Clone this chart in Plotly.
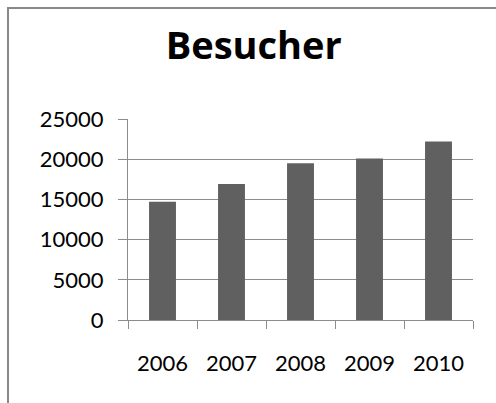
import plotly.graph_objects as go

years = ["2006", "2007", "2008", "2009", "2010"]
besucher = [14700, 16900, 19500, 20100, 22200]
y_ticks = [0, 5000, 10000, 15000, 20000, 25000]

W, H = 496, 403
L, R, T, B = 128, 23, 119, 83
pw, ph = W - L - R, H - T - B

fig = go.Figure(go.Bar(x=years, y=besucher, marker=dict(color="#606060", line=dict(width=0)),
                       hoverinfo="skip"))

font = "Lato, 'Open Sans', sans-serif"
grid = "#8c8c8c"
fig.update_layout(
    width=W, height=H,
    margin=dict(l=L, r=R, t=T, b=B, pad=0),
    paper_bgcolor="white", plot_bgcolor="white",
    bargap=0.61,
    showlegend=False,
    font=dict(family=font, color="black", size=22),
    title=dict(text="<b>Besucher</b>", x=253.7 / W, xanchor="center", xref="container",
               y=1 - 46 / H, yanchor="middle", yref="container",
               font=dict(family="'Open Sans', sans-serif", size=38, color="black")),
    xaxis=dict(type="category", showline=True, linecolor=grid, linewidth=1,
               ticks="outside", ticklen=8, tickcolor=grid, tickwidth=1,
               tickson="boundaries", showgrid=False, ticklabelstandoff=24,
               tickfont=dict(size=22)),
    yaxis=dict(range=[0, 25000], tickvals=y_ticks, ticktext=[str(v) for v in y_ticks],
               showline=True, linecolor=grid, linewidth=1,
               ticks="outside", ticklen=9, tickcolor=grid, tickwidth=1,
               showgrid=True, gridcolor=grid, gridwidth=1, zeroline=False,
               ticklabelstandoff=10, tickfont=dict(size=22)),
    shapes=[dict(type="rect", xref="paper", yref="paper",
                 x0=(8 - L) / pw, x1=(W + 10 - L) / pw,
                 y0=-(H + 10 - (T + ph)) / ph, y1=1 + (T - 8) / ph,
                 line=dict(color="#888888", width=2), fillcolor="rgba(0,0,0,0)")],
)

fig.write_html("out.html", config={"displayModeBar": False},
               post_script="document.body.style.margin='0';")
